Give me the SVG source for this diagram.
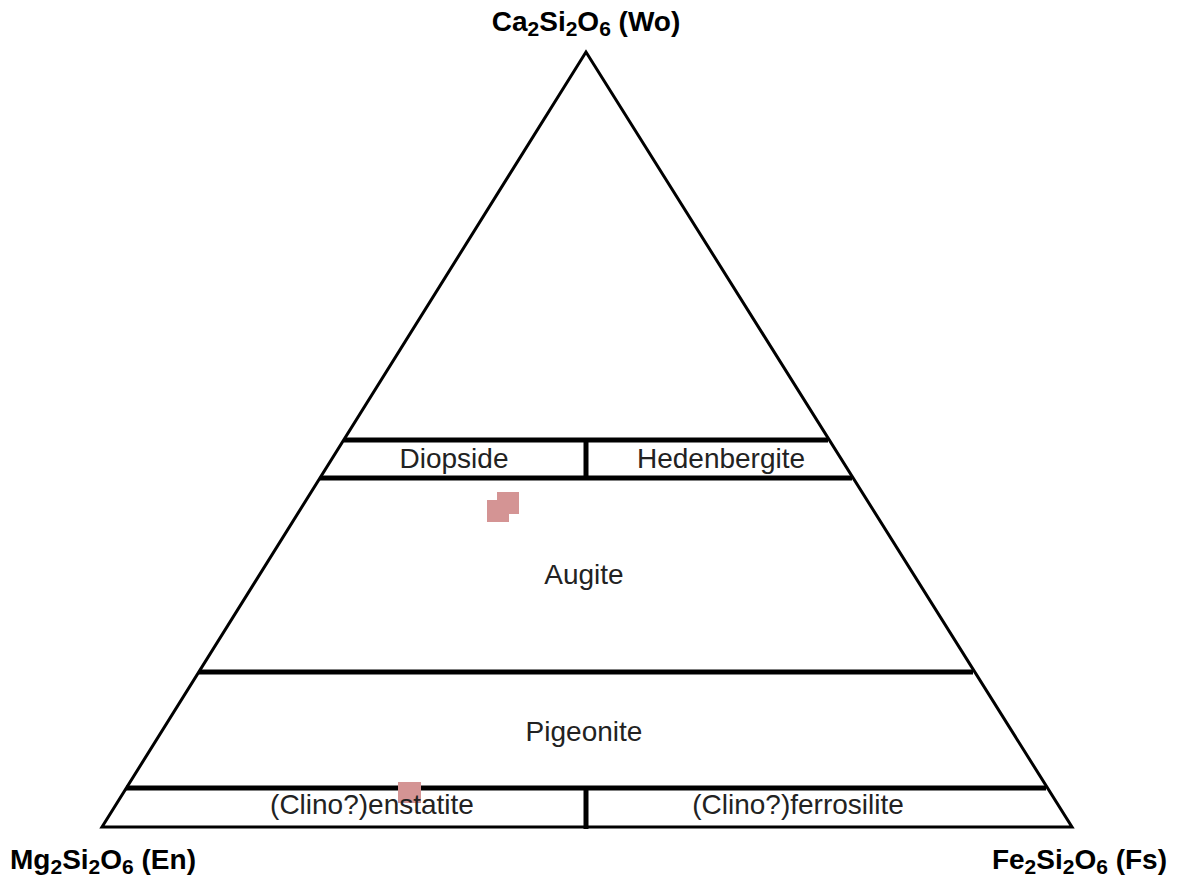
<svg xmlns="http://www.w3.org/2000/svg" width="1177" height="882" viewBox="0 0 1177 882">
<style>
.edge{fill:none;stroke:#000;stroke-width:3;stroke-linejoin:miter}
.div{stroke:#000;stroke-width:5;fill:none}
.lbl{font-family:"Liberation Sans",Arial,sans-serif;font-size:28px;fill:#222;text-anchor:middle}
.end{font-family:"Liberation Sans",Arial,sans-serif;font-size:28px;font-weight:bold;fill:#000}
.sub{font-size:21px}
.pt{fill:#d49494}
</style>
<rect width="1177" height="882" fill="#fff"/>
<g id="triangle">
<polygon class="edge" points="586,52 102,827 1072,827"/>
</g>
<g id="connectors">
<line class="div" x1="344" y1="440" x2="828" y2="440"/>
<line class="div" x1="320" y1="478" x2="852" y2="478"/>
<line class="div" x1="199" y1="672" x2="973" y2="672"/>
<line class="div" x1="126" y1="788" x2="1046" y2="788"/>
<line class="div" x1="586" y1="440" x2="586" y2="478"/>
<line class="div" x1="586" y1="788" x2="586" y2="829"/>
</g>
<g id="points">
<rect class="pt" x="487" y="500" width="22" height="22"/>
<rect class="pt" x="497" y="492" width="22" height="22"/>
<rect class="pt" x="398" y="782" width="23" height="21"/>
</g>
<g id="diopside"><text class="lbl" x="454" y="468">Diopside</text></g>
<g id="hedenbergite"><text class="lbl" x="721" y="468">Hedenbergite</text></g>
<g id="augite"><text class="lbl" x="584" y="584">Augite</text></g>
<g id="pigeonite"><text class="lbl" x="584" y="741">Pigeonite</text></g>
<g id="enstatite"><text class="lbl" x="372" y="814">(Clino?)enstatite</text></g>
<g id="ferrosilite"><text class="lbl" x="798" y="814">(Clino?)ferrosilite</text></g>
<g id="wo"><text class="end" x="586" y="31" text-anchor="middle">Ca<tspan class="sub" dy="5">2</tspan><tspan dy="-5">Si</tspan><tspan class="sub" dy="5">2</tspan><tspan dy="-5">O</tspan><tspan class="sub" dy="5">6</tspan><tspan dy="-5"> (Wo)</tspan></text></g>
<g id="en"><text class="end" x="10" y="869">Mg<tspan class="sub" dy="5">2</tspan><tspan dy="-5">Si</tspan><tspan class="sub" dy="5">2</tspan><tspan dy="-5">O</tspan><tspan class="sub" dy="5">6</tspan><tspan dy="-5"> (En)</tspan></text></g>
<g id="fs"><text class="end" x="1167" y="869" text-anchor="end">Fe<tspan class="sub" dy="5">2</tspan><tspan dy="-5">Si</tspan><tspan class="sub" dy="5">2</tspan><tspan dy="-5">O</tspan><tspan class="sub" dy="5">6</tspan><tspan dy="-5"> (Fs)</tspan></text></g>
</svg>
